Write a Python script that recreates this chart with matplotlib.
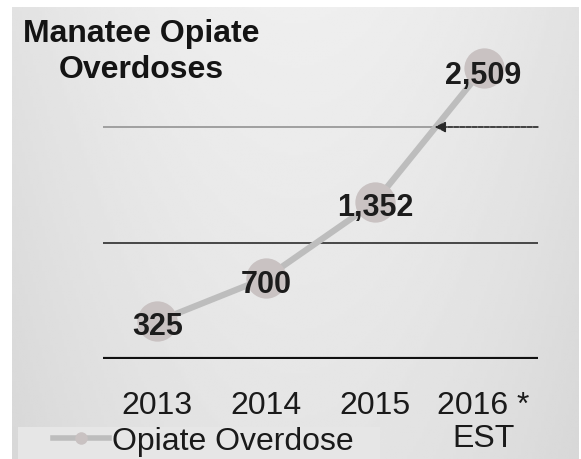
"""
Manatee opiate overdoses, 2013-2016 (2016 estimated) - line chart with
labelled round markers on a grey slide-style background.
"""
import numpy as np
import matplotlib
matplotlib.use("Agg")
import matplotlib.pyplot as plt
from matplotlib.lines import Line2D
from matplotlib.patches import Rectangle

plt.rcParams["font.family"] = ["Liberation Sans", "DejaVu Sans"]

years = ["2013", "2014", "2015", "2016 *\nEST"]
overdoses = [325, 700, 1352, 2509]
value_labels = ["325", "700", "1,352", "2,509"]
gridlines = [1000, 2000]
title = "Manatee Opiate\nOverdoses"
series_name = "Opiate Overdose"

W, H = 581, 460
fig = plt.figure(figsize=(W / 100, H / 100), dpi=100, facecolor="white")

# grey panel with a soft gradient, sits behind everything
bg = fig.add_axes([12 / W, 0, 1 - 12 / W - 2 / W, 1 - 8 / H], zorder=-10)
gx = np.linspace(-1, 1, 200)
gy = np.linspace(0, 1, 160)[:, None]
shade = 0.935 - 0.05 * gx[None, :] ** 2 - 0.04 * gy
bg.imshow(shade, cmap="gray", vmin=0, vmax=1, aspect="auto",
          interpolation="bilinear")
bg.axis("off")

ax = fig.add_axes([103 / W, 100 / H, 435 / W, 348 / H])
ax.patch.set_alpha(0)
x = np.arange(len(years))

for g, c in zip(gridlines, ["#3a3a3a", "#9a9a9a"]):
    ax.axhline(g, color=c, lw=1.3, zorder=1)
ax.axhline(0, color="#111111", lw=3, zorder=1)

ax.plot(x, overdoses, color="#bdbdbd", lw=4.5, zorder=2, solid_capstyle="round")
ax.plot(x, overdoses, ls="none", marker="o", ms=29, mfc="#c9c2c2",
        mec="none", zorder=3)

offsets = [(0, -38), (0, -50), (0, -45), (0, -65)]
for xi, v, lab, (dx, dy) in zip(x, overdoses, value_labels, offsets):
    ax.text(xi + dx, v + dy, lab, ha="center", va="center", fontsize=22,
            fontweight="bold", color="#1c1c1c", zorder=4)

# little dashed arrow sitting on the 2,000 line
ax.annotate("", xy=(2.55, 2000), xytext=(3.5, 2000),
            arrowprops=dict(arrowstyle="-|>", color="#2a2a2a", lw=1.1,
                            mutation_scale=16, shrinkA=0, shrinkB=0,
                            linestyle=(0, (3, 1))), zorder=5)

ax.set_xlim(-0.5, 3.5)
ax.set_ylim(0, 3000)
ax.set_xticks(x)
ax.set_xticklabels(years, fontsize=23, color="#1a1a1a")
ax.set_yticks([])
ax.tick_params(axis="x", length=0, pad=22)
for t in ax.get_xticklabels():
    t.set_linespacing(1.15)
for s in ax.spines.values():
    s.set_visible(False)

fig.text(141 / W, 1 - 52 / H, title, ha="center", va="center", fontsize=23,
         fontweight="bold", color="#141414", linespacing=1.25)

# legend strip at the bottom left
fig.patches.append(Rectangle((18 / W, 0), 362 / W, 32 / H,
                             transform=fig.transFigure, facecolor="#e6e6e6",
                             edgecolor="none", zorder=-5))
handle = Line2D([], [], color="#bdbdbd", lw=4, marker="o", ms=9,
                mfc="#c9c2c2", mec="none")
leg = fig.legend([handle], [series_name], loc="center left",
                 bbox_to_anchor=(53 / W, 1 - 442 / H), fontsize=23,
                 frameon=False, handlelength=1.75, handletextpad=0.1,
                 borderpad=0, borderaxespad=0)
for t in leg.get_texts():
    t.set_color("#1a1a1a")

fig.savefig("out.png", dpi=100)
